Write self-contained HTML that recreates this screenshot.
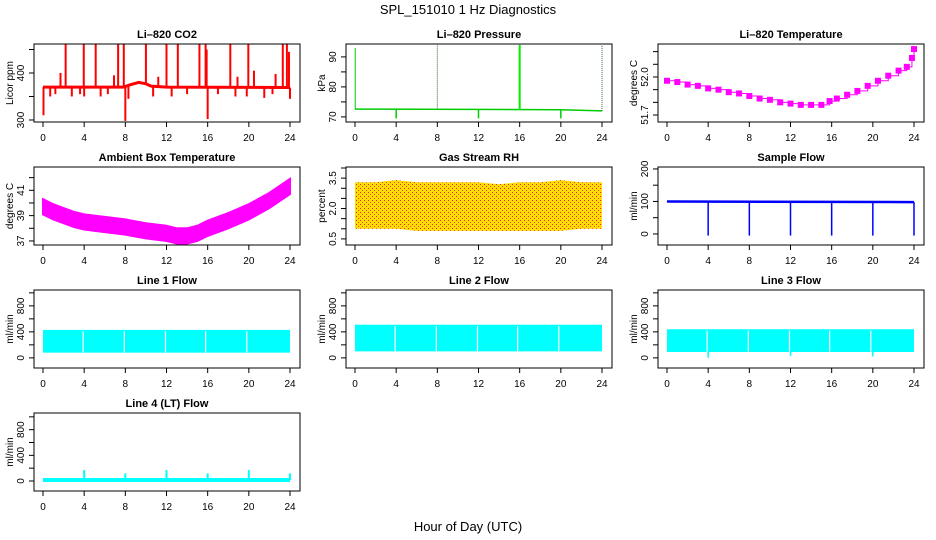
<!DOCTYPE html>
<html><head><meta charset="utf-8"><style>
body{margin:0;background:#fff}
svg{display:block;font-family:"Liberation Sans",sans-serif}
</style></head><body>
<svg id="c" width="936" height="540" viewBox="0 0 936 540">
<text x="468" y="14" text-anchor="middle" font-size="13">SPL_151010  1 Hz Diagnostics</text>
<text x="468" y="531" text-anchor="middle" font-size="13">Hour of Day (UTC)</text>
</svg>
<script>
const hours=[0,4,8,12,16,20,24];
// CO2
const co2Base=[[0,370],[7.8,370],[8.5,375],[9.3,380],[10,377],[10.5,372],[12,370],[24,369]];
const co2SpikeT=[2.2,3.96,5.12,7.3,7.85,10.0,12.0,13.1,15.2,15.8,18.2,19.95,23.3,23.7,1.7,6.9,11.2,15.9,18.9,20.5,22.6,23.9];
const co2SpikeV=[461,461,461,461,461,461,461,461,461,461,461,461,461,461,400,395,392,450,392,405,398,445];
const co2DipT=[0.05,0.7,1.2,2.8,3.6,4.0,5.6,6.3,8.0,8.3,10.7,12.5,14.0,16.0,17.0,18.7,19.8,21.5,22.3,24];
const co2DipV=[310,350,355,350,355,350,350,355,298,345,350,350,355,302,355,350,350,347,355,345];
// Pressure
const presBase=[[0,72.6],[20,72.4],[24,72.0]];
const presSpikeT=[0.02,8,16,24];
const presSpikeV=[93,94,94,94];
const presDipT=[4,12,20];
const presDipV=[69.5,69.5,69.5];
// Li-820 Temperature
const lt820T=[0,1,2,3,4,5,6,7,8,9,10,11,12,13,14,15,15.8,16.5,17.5,18.5,19.5,20.5,21.5,22.5,23.3,23.8,24];
const lt820V=[51.97,51.96,51.94,51.93,51.91,51.90,51.88,51.87,51.85,51.83,51.82,51.80,51.79,51.78,51.78,51.78,51.81,51.83,51.86,51.89,51.93,51.97,52.01,52.05,52.08,52.15,52.22];
// Ambient Box Temperature (band center)
const ambT=[0,1,2,3,4,6,8,10,12,13,14,15,16,18,20,22,24];
const ambV=[39.7,39.3,39.0,38.7,38.5,38.3,38.1,37.8,37.6,37.4,37.4,37.6,38.0,38.6,39.3,40.2,41.3];
// Gas RH
const rhT=[0,2,4,6,8,10,12,14,16,18,20,22,24];
const rhHi=[3.3,3.3,3.4,3.3,3.3,3.3,3.3,3.2,3.3,3.3,3.4,3.3,3.3];
const rhLo=[1.0,1.0,1.0,0.9,0.9,0.9,0.9,0.9,0.9,0.9,0.9,1.0,1.0];
// Sample flow
const sfBase=[[0,100],[24,98]];
const sfDipT=[4,8,12,16,20,24];
const sfDipV=[-5,-5,-5,-5,-5,-5];
// Line flows: [low, high]
const l1=[80,430],l2=[100,510],l3=[90,440];
const gapT=[3.9,7.9,11.9,15.8,19.8];
const l3DipT=[4,12,20]; const l3DipV=[0,30,20];
const l4Base=15;
const l4SpikeT=[4,8,12,16,20,24]; const l4SpikeV=[170,120,170,120,170,120];

const svg=document.getElementById('c');const NS='http://www.w3.org/2000/svg';
function el(t,a,p){const e=document.createElementNS(NS,t);for(const k in a)e.setAttribute(k,a[k]);(p||svg).appendChild(e);return e;}
function panel(o){
  const L=34+312*o.col,R=L+266,T=44+123*o.row,B=T+78;
  const g=el('g',{});
  
  
  const x=h=>L+9+h*(247/24);
  const y=v=>B-(v-o.lo)/(o.hi-o.lo)*78;
  const cp='cp'+o.name;const d=el('clipPath',{id:cp},g);el('rect',{x:L,y:T,width:266,height:78},d);
  const pg=el('g',{'clip-path':'url(#'+cp+')'},g);
  o.draw(pg,x,y);
  const bx=el('rect',{x:L,y:T,width:266,height:78,fill:'none',stroke:'#000','stroke-width':1},g);
  
  
  const t=el('text',{x:(L+R)/2,y:T-6,'text-anchor':'middle','font-size':11,'font-weight':'bold'},g);t.textContent=o.title;
  
  
  hours.forEach(h=>{el('line',{x1:x(h),x2:x(h),y1:B,y2:B+5,stroke:'#000'},g);
    const tl=el('text',{x:x(h),y:B+19,'text-anchor':'middle','font-size':10},g);tl.textContent=h;
    
    });
  const ax=L;
  o.ticks.forEach(v=>el('line',{x1:ax-5,x2:ax,y1:y(v),y2:y(v),stroke:'#000'},g));
  o.labels.forEach(v=>{const lx=ax-10;const tl=el('text',{x:lx,y:y(v),'text-anchor':'middle','font-size':10,transform:`rotate(-90 ${lx} ${y(v)})`},g);tl.textContent=v;
    
    });
  const yx=L-21;
  const yl=el('text',{x:yx,y:(T+B)/2,'text-anchor':'middle','font-size':10,transform:`rotate(-90 ${yx} ${(T+B)/2})`},g);yl.textContent=o.ylab;
  
  
}
function path(g,pts,x,y,col,w,extra){const p=el('path',Object.assign({d:'M'+pts.map(q=>x(q[0])+','+y(q[1])).join('L'),fill:'none',stroke:col,'stroke-width':w},extra||{}),g);return p;}
function vl(g,x1,y1,y2,col,w,extra){const l=el('line',Object.assign({x1:x1,x2:x1,y1:y1,y2:y2,stroke:col,'stroke-width':w},extra||{}),g);return l;}
function baseAt(b,h){for(let i=1;i<b.length;i++)if(h<=b[i][0]){const a=b[i-1],c=b[i];return a[1]+(c[1]-a[1])*(h-a[0])/(c[0]-a[0]);}return b[b.length-1][1];}

panel({name:'co2-panel',title:'Li\u2013820 CO2',ylab:'Licor ppm',col:0,row:0,lo:295.7,hi:461.7,ticks:[300,350,400,450],labels:[300,400],draw:(g,x,y)=>{
  path(g,co2Base,x,y,'#f00',3);
  co2SpikeT.forEach((t,i)=>vl(g,x(t),y(baseAt(co2Base,t)),y(co2SpikeV[i]),'#f00',2));
  co2DipT.forEach((t,i)=>vl(g,x(t),y(baseAt(co2Base,t)),y(co2DipV[i]),'#f00',2));}});
panel({name:'pressure-panel',title:'Li\u2013820 Pressure',ylab:'kPa',col:1,row:0,lo:68.3,hi:94.3,ticks:[70,75,80,85,90],labels:[70,80,90],draw:(g,x,y)=>{
  path(g,presBase,x,y,'#0c0',1.5);
  presSpikeT.forEach((t,i)=>vl(g,x(t),y(baseAt(presBase,t)),y(presSpikeV[i]),i==2?'#0e0':(i==0?'#0c0':'#363'),i==2?2:1,i==0||i==2?{}:{'stroke-dasharray':'1 1'}));
  presDipT.forEach((t,i)=>vl(g,x(t),y(baseAt(presBase,t)),y(presDipV[i]),'#0c0',1.5));}});
panel({name:'li820-temp-panel',title:'Li\u2013820 Temperature',ylab:'degrees C',col:2,row:0,lo:51.645,hi:52.26,ticks:[51.7,51.8,51.9,52.0,52.1,52.2],labels:['51.7','52.0'],draw:(g,x,y)=>{
  const pts=[];lt820T.forEach((t,i)=>{if(i>0)pts.push([t,lt820V[i-1]]);pts.push([t,lt820V[i]]);});
  path(g,pts,x,y,'#f0f',1);
  lt820T.forEach((t,i)=>{const r=el('rect',{x:x(t)-3,y:y(lt820V[i])-3,width:6,height:6,fill:'#f0f'},g);});}});
panel({name:'ambient-temp-panel',title:'Ambient Box Temperature',ylab:'degrees C',col:0,row:1,lo:36.68,hi:42.84,ticks:[37,38,39,40,41,42],labels:[37,39,41],draw:(g,x,y)=>{
  const up=ambT.map((t,i)=>x(t)+','+y(ambV[i]+0.6)),dn=ambT.map((t,i)=>x(t)+','+y(ambV[i]-0.6)).reverse();
  const p=el('polygon',{points:up.concat(dn).join(' '),fill:'#f0f',stroke:'#f0f','stroke-width':2},g);}});
panel({name:'rh-panel',title:'Gas Stream RH',ylab:'percent',col:1,row:1,lo:0.2,hi:4.05,ticks:[0.5,1,1.5,2,2.5,3,3.5,4],labels:['0.5','2.0','3.5'],draw:(g,x,y)=>{
  const d=el('defs',{},g);const pt=el('pattern',{id:'rhp',width:4,height:4,patternUnits:'userSpaceOnUse'},d);
  el('rect',{width:4,height:4,fill:'#fd0'},pt);el('rect',{width:1,height:1,fill:'#e22'},pt);el('rect',{x:2,y:2,width:1,height:1,fill:'#e44'},pt);
  const up=rhT.map((t,i)=>x(t)+','+y(rhHi[i])),dn=rhT.map((t,i)=>x(t)+','+y(rhLo[i])).reverse();
  const p=el('polygon',{points:up.concat(dn).join(' '),fill:'url(#rhp)'},g);}});
panel({name:'sample-flow-panel',title:'Sample Flow',ylab:'ml/min',col:2,row:1,lo:-34,hi:206,ticks:[0,50,100,150,200],labels:[0,100,200],draw:(g,x,y)=>{
  path(g,sfBase,x,y,'#00f',2.5);
  sfDipT.forEach((t,i)=>vl(g,x(t),y(baseAt(sfBase,t)),y(sfDipV[i]),'#00f',1.5));}});
function flow(name,title,col,row,rng,dips,dipV){panel({name:name,title:title,ylab:'ml/min',col:col,row:row,lo:-156,hi:1044,ticks:[0,200,400,600,800,1000],labels:[0,400,800],draw:(g,x,y)=>{
  const r=el('rect',{x:x(0),y:y(rng[1]),width:x(24)-x(0),height:y(rng[0])-y(rng[1]),fill:'#0ff'},g);
  gapT.forEach(t=>vl(g,x(t),y(rng[1]-20),y(rng[0]+5),'#fff',1.2));
  if(dips)dips.forEach((t,i)=>vl(g,x(t),y(rng[0]),y(dipV[i]),'#0ff',1.5));}});}
flow('line1-flow-panel','Line 1 Flow',0,2,l1);
flow('line2-flow-panel','Line 2 Flow',1,2,l2);
flow('line3-flow-panel','Line 3 Flow',2,2,l3,l3DipT,l3DipV);
panel({name:'line4-flow-panel',title:'Line 4 (LT) Flow',ylab:'ml/min',col:0,row:3,lo:-156,hi:1060,ticks:[0,200,400,600,800,1000],labels:[0,400,800],draw:(g,x,y)=>{
  path(g,[[0,l4Base],[24,l4Base]],x,y,'#0ff',4);
  l4SpikeT.forEach((t,i)=>vl(g,x(t),y(l4Base),y(l4SpikeV[i]),'#0ff',2));}});
</script>
</body></html>
